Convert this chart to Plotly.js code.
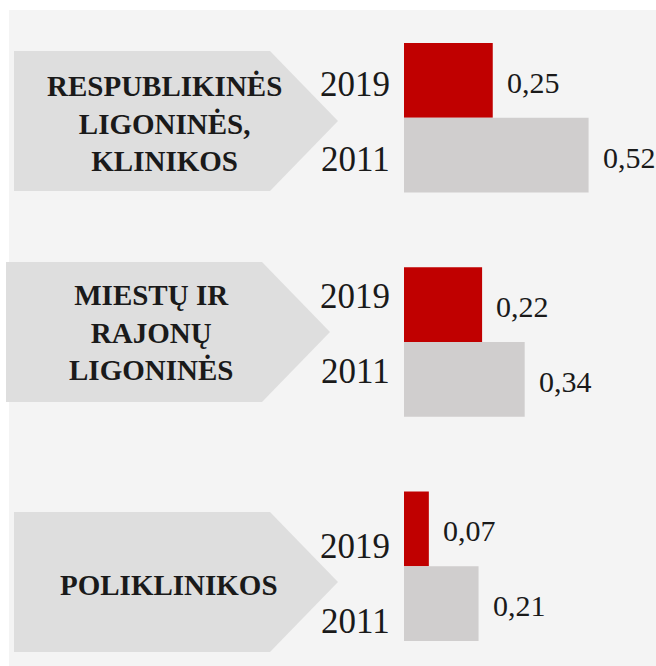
<!DOCTYPE html>
<html>
<head>
<meta charset="utf-8">
<script src="https://cdn.plot.ly/plotly-3.0.1.min.js"></script>
<style>
  html, body { margin: 0; padding: 0; background: #ffffff; }
  #chart { width: 656px; height: 666px; }
</style>
</head>
<body>
<div id="chart"></div>
<script>
const categories = [
  'RESPUBLIKINĖS<br>LIGONINĖS,<br>KLINIKOS',
  'MIESTŲ IR<br>RAJONŲ<br>LIGONINĖS',
  'POLIKLINIKOS'
];
const years = ['2019', '2011'];
const values2019 = [0.25, 0.22, 0.07];
const values2011 = [0.52, 0.34, 0.21];

const W = 656;
const H = 666;
const margin = { l: 404, r: 0, t: 43, b: 25 };
const plotW = W - margin.l - margin.r;
const plotH = H - margin.t - margin.b;

// pixel -> paper helpers for the decorative shapes
const px = (x) => (x - margin.l) / plotW;
const py = (y) => 1 - (y - margin.t) / plotH;

const serif = '"Liberation Serif", "Times New Roman", serif';
const textColor = '#1a1a1a';

// arrow boxes behind the category names (pixels)
const arrows = [
  { left: 14, right: 270, tip: 338, top: 51, bottom: 191, textX: 164, textY: 123 },
  { left: 6, right: 262, tip: 330, top: 262, bottom: 402, textX: 151, textY: 332 },
  { left: 14, right: 270, tip: 338, top: 512, bottom: 652, textX: 169, textY: 585 }
];
const yearShift = [-4, 8, -18];

const pos2019 = categories.map((c, i) => i * 3);
const pos2011 = categories.map((c, i) => i * 3 + 1);

function fmt(v) {
  return v.toFixed(2).replace('.', ',');
}

const data = [
  {
    type: 'bar',
    orientation: 'h',
    name: years[0],
    x: values2019,
    y: pos2019,
    width: 1,
    marker: { color: '#c00000' },
    hoverinfo: 'none'
  },
  {
    type: 'bar',
    orientation: 'h',
    name: years[1],
    x: values2011,
    y: pos2011,
    width: 1,
    marker: { color: '#d0cece' },
    hoverinfo: 'none'
  }
];

const shapes = [
  {
    type: 'rect',
    xref: 'paper',
    yref: 'paper',
    x0: px(9),
    x1: px(W),
    y0: py(10),
    y1: py(H),
    fillcolor: '#f4f4f4',
    line: { width: 0 },
    layer: 'below'
  }
];

arrows.forEach((a) => {
  const mid = (a.top + a.bottom) / 2;
  shapes.push({
    type: 'path',
    xref: 'paper',
    yref: 'paper',
    path: `M ${px(a.left)} ${py(a.top)} L ${px(a.right)} ${py(a.top)} L ${px(a.tip)} ${py(mid)} L ${px(a.right)} ${py(a.bottom)} L ${px(a.left)} ${py(a.bottom)} Z`,
    fillcolor: '#dedede',
    line: { width: 0 },
    layer: 'below'
  });
});

const annotations = [];

categories.forEach((cat, i) => {
  const a = arrows[i];
  annotations.push({
    xref: 'paper',
    yref: 'paper',
    x: px(a.textX),
    y: py(a.textY),
    text: `<b>${cat}</b>`,
    showarrow: false,
    xanchor: 'center',
    yanchor: 'middle',
    align: 'center',
    font: { family: serif, size: 29, color: textColor }
  });

  [pos2019[i], pos2011[i]].forEach((yPos, j) => {
    annotations.push({
      xref: 'paper',
      yref: 'y',
      x: 0,
      y: yPos,
      text: years[j],
      showarrow: false,
      xanchor: 'right',
      yanchor: 'middle',
      xshift: -12,
      yshift: yearShift[i],
      font: { family: serif, size: 35, color: textColor }
    });
  });

  [[values2019[i], pos2019[i]], [values2011[i], pos2011[i]]].forEach(([v, yPos]) => {
    annotations.push({
      xref: 'x',
      yref: 'y',
      x: v,
      y: yPos,
      text: fmt(v),
      showarrow: false,
      xanchor: 'left',
      yanchor: 'middle',
      xshift: 12,
      yshift: -2,
      font: { family: serif, size: 30, color: textColor }
    });
  });
});

const layout = {
  width: W,
  height: H,
  margin: margin,
  paper_bgcolor: '#ffffff',
  plot_bgcolor: 'rgba(0,0,0,0)',
  showlegend: false,
  barmode: 'overlay',
  xaxis: {
    range: [0, plotW / 355],
    visible: false,
    fixedrange: true
  },
  yaxis: {
    range: [7.5, -0.5],
    visible: false,
    fixedrange: true
  },
  shapes: shapes,
  annotations: annotations
};

Plotly.newPlot('chart', data, layout, { displayModeBar: false, staticPlot: true });
</script>
</body>
</html>
